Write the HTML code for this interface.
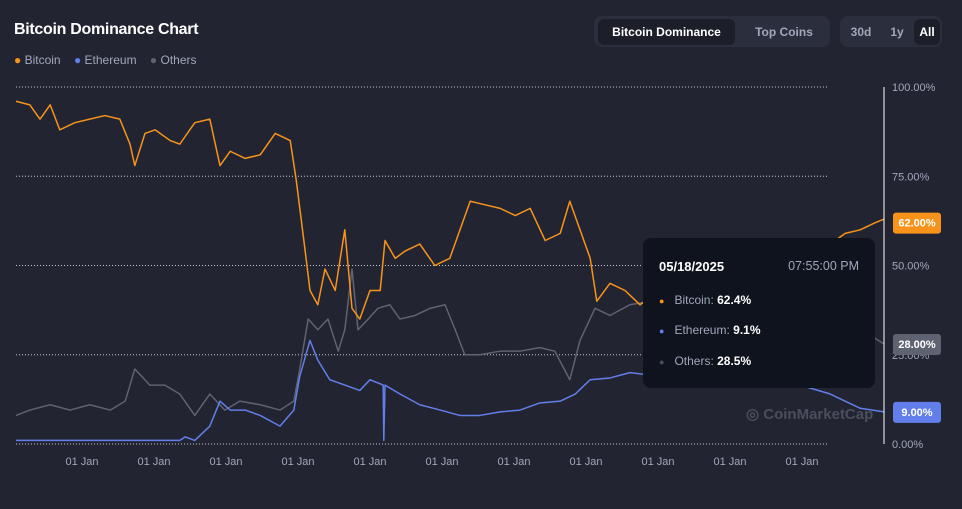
<!DOCTYPE html>
<html><head><meta charset="utf-8"><style>
body{margin:0;width:962px;height:509px;background:#222531;font-family:"Liberation Sans",sans-serif;overflow:hidden;position:relative;color:#fff}
.t{position:absolute}
.btn{position:absolute;font-size:12px;font-weight:bold;color:#a1a7bb;text-align:center;line-height:26px;border-radius:6px}
</style></head><body>
<div class="t" style="left:14px;top:21px;font-size:16px;font-weight:bold;letter-spacing:-0.3px">Bitcoin Dominance Chart</div>
<div class="t" style="left:14px;top:53px;font-size:12px;color:#a1a7bb">
<span><span style="color:#f7931a">●</span> Bitcoin</span>&nbsp;&nbsp;&nbsp;
<span><span style="color:#627eea">●</span> Ethereum</span>&nbsp;&nbsp;&nbsp;
<span><span style="color:#5f6270">●</span> Others</span></div>
<div class="t" style="left:594px;top:16px;width:236px;height:31px;background:#2b2f3d;border-radius:8px"></div>
<div class="btn" style="left:598px;top:19px;width:137px;background:#1c1f2a;color:#fff">Bitcoin Dominance</div>
<div class="btn" style="left:740px;top:19px;width:88px">Top Coins</div>
<div class="t" style="left:840px;top:16px;width:102px;height:31px;background:#2b2f3d;border-radius:8px"></div>
<div class="btn" style="left:844px;top:19px;width:34px">30d</div>
<div class="btn" style="left:884px;top:19px;width:26px">1y</div>
<div class="btn" style="left:914px;top:19px;width:26px;background:#1c1f2a;color:#fff">All</div>
<svg id="c" class="t" style="left:0;top:0" width="962" height="509"></svg>
<div class="t" style="left:643px;top:238px;width:232px;height:150px;background:#0f131e;border-radius:8px;font-size:12px">
<div style="position:absolute;left:16px;top:21px;font-weight:bold;font-size:13px">05/18/2025</div>
<div style="position:absolute;right:16px;top:21px;color:#a1a7bb;font-size:12.5px">07:55:00 PM</div>
<div style="position:absolute;left:16px;top:55px;color:#a1a7bb"><span style="color:#f7931a;font-size:9px">●</span>&nbsp;&nbsp; Bitcoin: <b style="color:#fff">62.4%</b></div>
<div style="position:absolute;left:16px;top:85px;color:#a1a7bb"><span style="color:#627eea;font-size:9px">●</span>&nbsp;&nbsp; Ethereum: <b style="color:#fff">9.1%</b></div>
<div style="position:absolute;left:16px;top:116px;color:#a1a7bb"><span style="color:#4a4e5c;font-size:9px">●</span>&nbsp;&nbsp; Others: <b style="color:#fff">28.5%</b></div>
</div>
<div class="t" style="left:746px;top:405px;font-size:15px;font-weight:bold;color:#4a4e5c">◎ CoinMarketCap</div>
<script>
const btcT=[0,2.3,4,5.7,7.3,9.8,12.3,14.8,17.3,19,19.8,21.5,23.2,25.7,27.3,29.8,32.3,34,35.7,38.2,40.7,43.2,45.7,46.7,47.3,48.2,49,50.3,51.5,53.2,54.8,56,57.3,59,60.7,61.5,63.2,64.8,67.3,69.8,72.3,74,75.7,78.2,80.7,83.2,85.7,88.2,90.7,92.3,94,95.7,96.8,99,101.5,104,107.3,114,122.3,130.7,135.7,138.2,140.7,143.2,144.7];
const btcV=[96,95,91,95,88,90,91,92,91,84,78,87,88,85,84,90,91,78,82,80,81,87,85,74,66,54,43,39,49,43,60,38,35,43,43,57,52,54,56,50,52,60,68,67,66,64,66,57,59,68,60,52,40,45,43,39,43,46,45,52,56,59,60,62,63];
const othT=[0,2.3,5.7,9,12.3,15.7,18.2,19.8,22.3,24.8,27.3,29.8,32.3,34.8,37.3,40.7,44,46.3,47.3,48.7,50.3,52,53.7,54.8,56,57,58.7,60.3,62.3,64,66.5,69,71.5,73.2,74.8,77.3,80.7,84,87.3,89.8,92.3,94,96.5,99,102.3,105.7,114,122.3,130.7,139,142.3,144.7];
const othV=[8,9.5,11,9.5,11,9.5,12,21,16.5,16.5,14,8,14,9.5,12,11,9.5,12,21,35,32,35,26,32,49,32,35,38,39,35,36,38,39,32,25,25,26,26,27,26,18,29,38,36,39,40,35,32,33,32,30.5,28];
const ethT=[0,27.3,28.2,29.8,32.3,34,35.7,38.2,40.7,44,46.3,47.3,49,50.3,52.3,54.8,57.3,59,61.2,61.3,61.5,64,67.3,70.7,74,77.3,80.7,84,87.3,90.7,93.2,95.7,99,102.3,107.3,114,122.3,130.7,135.7,140.7,144.7];
const ethV=[1,1,2,1,5,12,9.5,9.5,8,5,9.5,19,29,23.5,18,16.5,15,18,16.5,1,16.5,14,11,9.5,8,8,9,9.5,11.5,12,14,18,18.5,20,19,18,18,16.5,14,10,9];
const yTicks=[0,25,50,75,100];
const xTicks=[11,23,35,47,59,71,83,95,107,119,131];
const badges=[[62,"62.00%","#f7931a"],[28,"28.00%","#5f6270"],[9,"9.00%","#627eea"]];
const X=t=>16+t*6, Y=v=>444-v*3.57;
const svg=document.getElementById('c'),NS='http://www.w3.org/2000/svg';
function mk(tag,a){const e=document.createElementNS(NS,tag);for(const k in a)e.setAttribute(k,a[k]);svg.appendChild(e);return e;}
yTicks.forEach(v=>{const l=mk('line',{x1:16,x2:828,y1:Y(v),y2:Y(v),stroke:'#c8cbd4','stroke-dasharray':'1 2','stroke-width':1});


const t=mk('text',{x:892,y:Y(v)+4,fill:'#a1a7bb','font-size':11});t.textContent=v.toFixed(2)+'%';

});
xTicks.forEach(m=>{const t=mk('text',{x:X(m),y:465,fill:'#a1a7bb','font-size':11,'text-anchor':'middle'});t.textContent='01 Jan';

});
function line(T,V,c,n){const p=mk('path',{d:T.map((t,i)=>(i?'L':'M')+X(t)+','+Y(V[i])).join(''),fill:'none',stroke:c,'stroke-width':1.5,'stroke-linejoin':'round'});

}
line(othT,othV,'#5f6270','others-line');
line(ethT,ethV,'#627eea','ethereum-line');
line(btcT,btcV,'#f7931a','bitcoin-line');
const cl=mk('line',{x1:884,x2:884,y1:87,y2:444,stroke:'#fff','stroke-width':1});


badges.forEach(b=>{const r=mk('rect',{x:893,y:Y(b[0])-10,width:48,height:21,rx:3,fill:b[2]});


const t=mk('text',{x:917,y:Y(b[0])+4,fill:'#fff','font-size':11,'font-weight':'bold','text-anchor':'middle'});t.textContent=b[1];

});
</script>
</body></html>
